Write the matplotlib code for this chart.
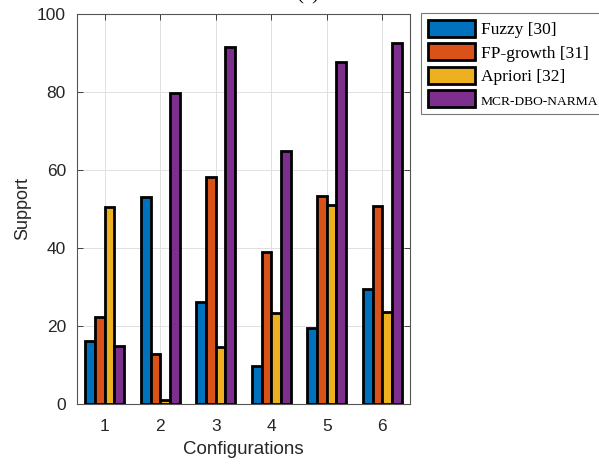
import matplotlib.pyplot as plt
import numpy as np

configs = [1, 2, 3, 4, 5, 6]
fuzzy = [16.2, 53.2, 26.1, 9.7, 19.5, 29.6]
fp_growth = [22.4, 12.9, 58.1, 39.0, 53.4, 50.8]
apriori = [50.6, 1.0, 14.5, 23.4, 51.1, 23.7]
mcr_dbo = [14.9, 79.7, 91.5, 65.0, 87.8, 92.5]
series_names = ["Fuzzy [30]", "FP-growth [31]", "Apriori [32]", "MCR-DBO-NARMA"]
colors = ["#0072BD", "#D95319", "#EDB120", "#7E2F8E"]

plt.rcParams['font.family'] = 'Liberation Sans'

fig = plt.figure(figsize=(5.99, 4.68), dpi=100)
ax = fig.add_axes([77/599, 1 - 404/468, 333/599, 390/468])

x = np.array(configs)
w = 0.175
handles = []
for i, vals in enumerate([fuzzy, fp_growth, apriori, mcr_dbo]):
    b = ax.bar(x + (i - 1.5) * w, vals, width=w, color=colors[i],
               edgecolor='black', linewidth=2.0, zorder=3, label=series_names[i])
    handles.append(b)

ax.set_xlim(0.5, 6.5)
ax.set_ylim(0, 100)
ax.set_xticks(configs)
ax.set_yticks([0, 20, 40, 60, 80, 100])
ax.tick_params(direction='in', top=True, right=True, labelsize=12.5,
               colors='#262626', length=4, width=0.6)
ax.tick_params(axis='x', pad=11)
ax.tick_params(axis='y', pad=8)
ax.grid(True, color='#e0e0e0', linewidth=0.7, zorder=0)
for s in ax.spines.values():
    s.set_color('#555555')
    s.set_linewidth(0.8)
ax.set_xlabel("Configurations", fontsize=13.5, color='#262626', labelpad=5)
ax.set_ylabel("Support", fontsize=13, color='#262626', labelpad=4)

fig.text(308/599, 1 - 4/468, "(a)", fontsize=15, family='Liberation Serif',
         ha='center', va='bottom')

leg = fig.legend(handles=handles, loc='upper left',
                 bbox_to_anchor=(421/599, 1 - 13/468),
                 prop={'family': 'Liberation Serif', 'size': 12.5},
                 frameon=True, fancybox=False, edgecolor='#555555',
                 handlelength=2.7, handleheight=1.1, handletextpad=0.35,
                 labelspacing=0.3, borderpad=0.4, borderaxespad=0)
leg.get_frame().set_linewidth(0.8)
leg.get_texts()[3].set_fontsize(9.7)

fig.savefig("out.png", dpi=100)
